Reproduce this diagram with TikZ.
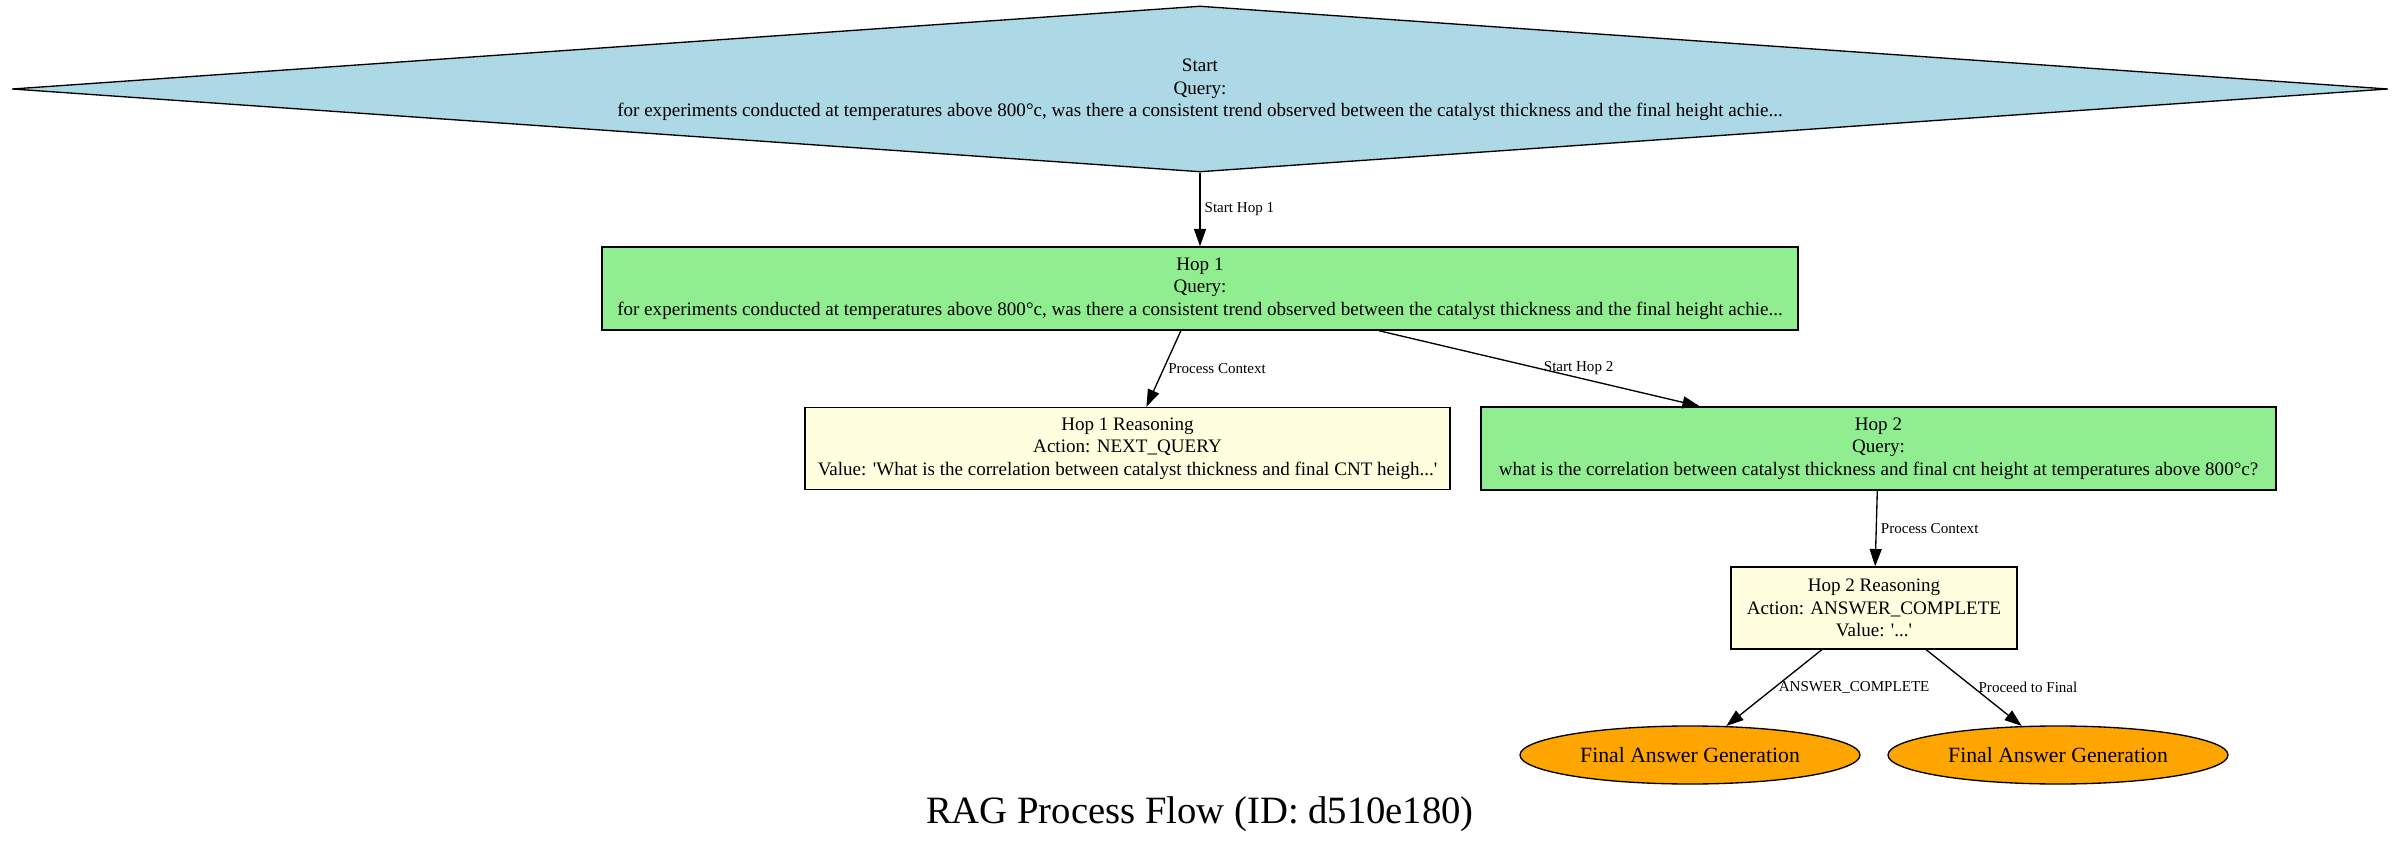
\documentclass[tikz,border=0pt]{standalone}
\usepackage{fontspec}
\setmainfont{Liberation Serif}[Ligatures=TeXOff]
\usepackage{xcolor}
\usetikzlibrary{shapes.geometric, arrows.meta, positioning}

\definecolor{startblue}{HTML}{ADD8E6}
\definecolor{hopgreen}{HTML}{90EE90}
\definecolor{reasonyellow}{HTML}{FFFFE0}
\definecolor{finalorange}{HTML}{FFA500}

\begin{document}
\begin{tikzpicture}[x=0.75pt, y=-0.75pt,
    every node/.style={font=\fontsize{14.3}{16.8}\selectfont, align=center, inner sep=0pt},
    startnode/.style={diamond, draw, line width=1pt, fill=startblue, aspect=14,
        minimum width=1782pt, minimum height=124.5pt},
    hopbox/.style={rectangle, draw, line width=1pt, fill=hopgreen, minimum height=62.25pt},
    reasonbox/.style={rectangle, draw, line width=1pt, fill=reasonyellow, minimum height=61.5pt},
    finalnode/.style={ellipse, draw, line width=1pt, fill=finalorange,
        minimum width=255pt, minimum height=43.5pt, font=\fontsize{16.3}{19}\selectfont},
    flow/.style={-{Triangle[length=13pt,width=9pt]}, line width=1pt},
    lbl/.style={font=\fontsize{11.3}{13}\selectfont, anchor=west, inner sep=3pt}
]

\useasboundingbox (0,0) rectangle (2400,848);

% Start query
\node[startnode] (start) at (1200,89)
    {\\[-6pt]Start\\Query:\\for experiments conducted at temperatures above 800°c, was there a consistent trend observed between the catalyst thickness and the final height achie...};

% Hops
\node[hopbox, minimum width=897pt] (hop1) at (1200,288.5)
    {Hop 1\\Query:\\for experiments conducted at temperatures above 800°c, was there a consistent trend observed between the catalyst thickness and the final height achie...};
\node[hopbox, minimum width=596.25pt] (hop2) at (1878.5,448.5)
    {Hop 2\\Query:\\what is the correlation between catalyst thickness and final cnt height at temperatures above 800°c?};

% Reasoning steps
\node[reasonbox, minimum width=483.75pt] (hop1r) at (1127.5,448.5)
    {Hop 1 Reasoning\\Action: NEXT\_QUERY\\Value: 'What is the correlation between catalyst thickness and final CNT heigh...'};
\node[reasonbox, minimum width=214.5pt] (hop2r) at (1874,608)
    {Hop 2 Reasoning\\Action: ANSWER\_COMPLETE\\Value: '...'};

% Final answers
\node[finalnode] (final1) at (1690,755) {Final Answer Generation};
\node[finalnode] (final2) at (2058,755) {Final Answer Generation};

% Title
\node[font=\fontsize{29}{34}\selectfont] (title) at (1200,814) {RAG Process Flow (ID: d510e180)};

% Edges
\draw[flow] (start) -- (hop1) node[lbl, midway] {Start Hop 1};
\draw[flow] (hop1) -- (hop1r) node[lbl, midway] {Process Context};
\draw[flow] (hop1) -- (hop2) node[lbl, midway] {Start Hop 2};
\draw[flow] (hop2) -- (hop2r) node[lbl, midway] {Process Context};
\draw[flow] (hop2r) -- (final1) node[lbl, midway] {ANSWER\_COMPLETE};
\draw[flow] (hop2r) -- (final2) node[lbl, midway] {Proceed to Final};

\end{tikzpicture}
\end{document}
